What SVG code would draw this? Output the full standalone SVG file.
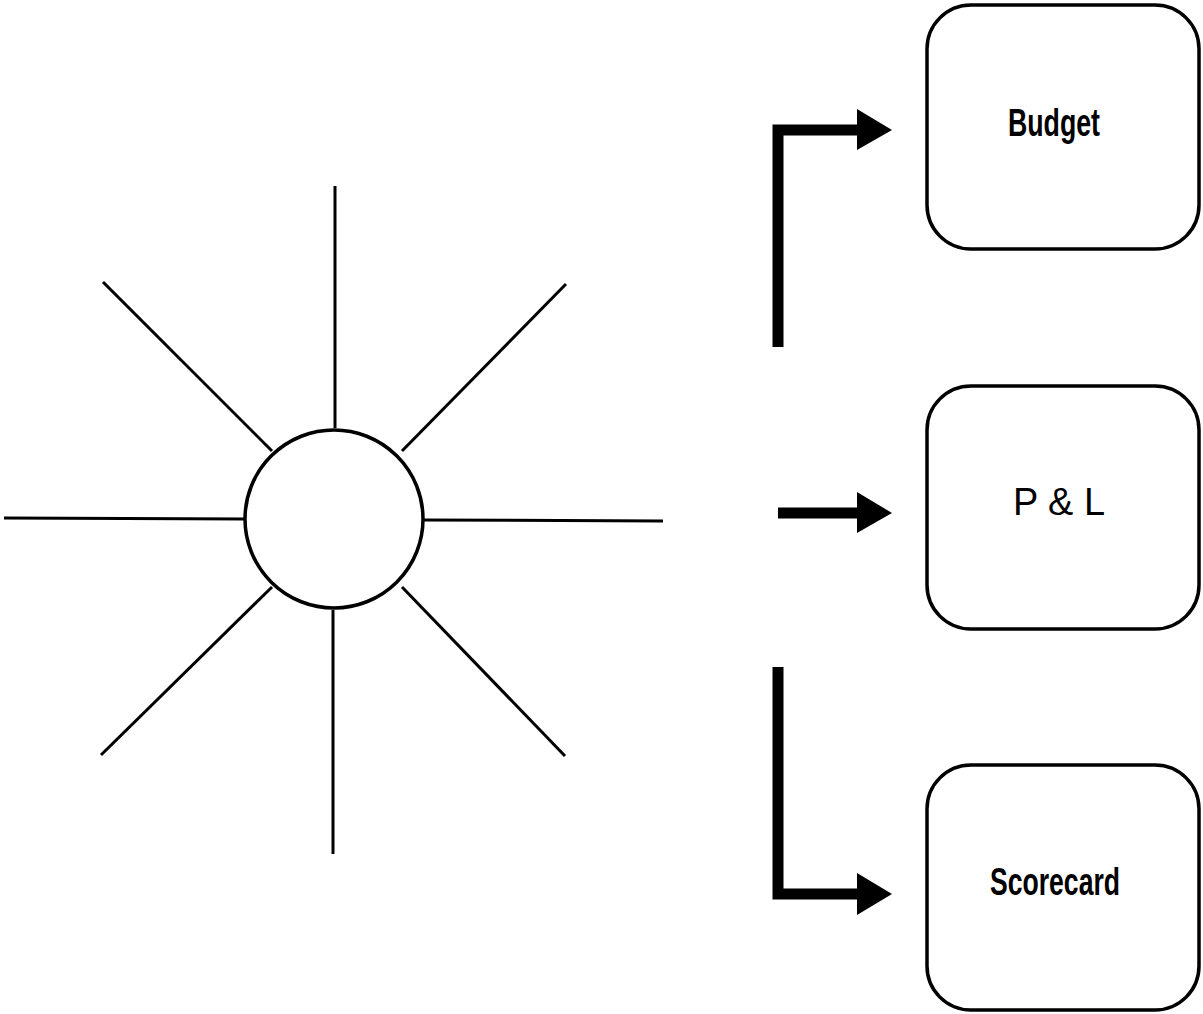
<svg xmlns="http://www.w3.org/2000/svg" width="1203" height="1014" viewBox="0 0 1203 1014">
  <style>
    .ray { stroke: #000; stroke-width: 3; fill: none; stroke-linecap: butt; }
    .hub { stroke: #000; stroke-width: 3.5; fill: #fff; }
    .box { stroke: #000; stroke-width: 3.5; fill: #fff; }
    .shaft { stroke: #000; stroke-width: 11; fill: none; stroke-linejoin: miter; }
    .head { fill: #000; }
    .label { font-family: "Liberation Sans Narrow", "Liberation Sans", Arial, sans-serif; font-size: 38px; fill: #000; text-anchor: middle; }
    .bold { font-weight: bold; }
  </style>
  <rect width="1203" height="1014" fill="#fff"/>

  <!-- starburst with central hub -->
  <g id="starburst">
    <line class="ray" x1="335" y1="186" x2="335" y2="428"/>
    <line class="ray" x1="333" y1="610" x2="333" y2="854"/>
    <line class="ray" x1="4" y1="518" x2="246" y2="519"/>
    <line class="ray" x1="422" y1="520" x2="663" y2="521"/>
    <line class="ray" x1="103" y1="282" x2="272" y2="451"/>
    <line class="ray" x1="566" y1="284" x2="402" y2="451"/>
    <line class="ray" x1="101" y1="755" x2="272" y2="587"/>
    <line class="ray" x1="565" y1="756" x2="402" y2="587"/>
    <circle class="hub" cx="334" cy="519" r="89"/>
  </g>

  <!-- arrows into the three boxes -->
  <g id="connectors">
    <polyline class="shaft" points="778,347 778,130 860,130"/>
    <polygon class="head" points="857,109 892,130 857,150"/>
    <line class="shaft" x1="778" y1="513" x2="860" y2="513"/>
    <polygon class="head" points="857,492 892,513 857,533"/>
    <polyline class="shaft" points="778,667 778,894 860,894"/>
    <polygon class="head" points="857,873 892,894 857,915"/>
  </g>

  <g id="budget">
    <rect class="box" x="927" y="5" width="272" height="244" rx="44" ry="44"/>
    <text class="label bold" x="1054" y="136" textLength="92" lengthAdjust="spacingAndGlyphs">Budget</text>
  </g>

  <g id="pnl">
    <rect class="box" x="927" y="386" width="272" height="243" rx="44" ry="44"/>
    <text class="label" x="1059" y="515" textLength="92" lengthAdjust="spacingAndGlyphs">P &amp; L</text>
  </g>

  <g id="scorecard">
    <rect class="box" x="927" y="765" width="272" height="245" rx="44" ry="44"/>
    <text class="label bold" x="1055" y="895" textLength="130" lengthAdjust="spacingAndGlyphs">Scorecard</text>
  </g>
</svg>
